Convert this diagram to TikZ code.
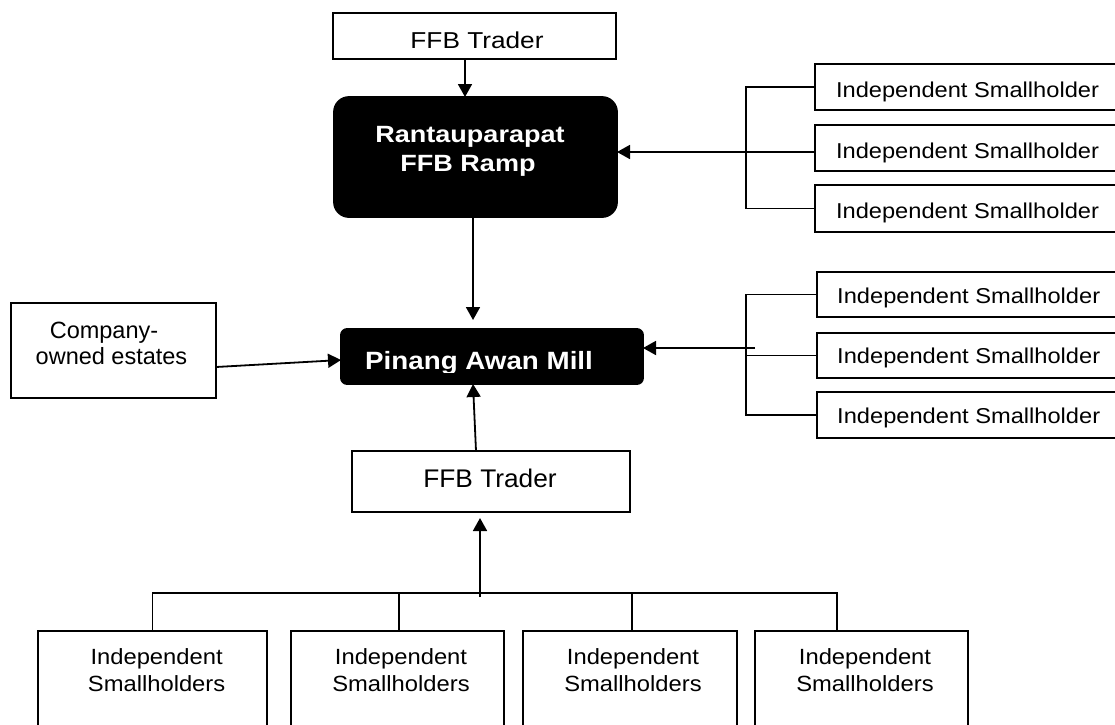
\documentclass[tikz,border=0pt]{standalone}
\usepackage{fontspec}
\setmainfont{Liberation Sans}
\newfontfamily\fsh{Liberation Sans}[FakeStretch=1.1]
\newfontfamily\fbt{Liberation Sans}[FakeStretch=1.08]
\newfontfamily\ftra{Liberation Sans}[FakeStretch=1.14]
\newfontfamily\ftrb{Liberation Sans}[FakeStretch=1.03]
\newfontfamily\fco{Liberation Sans}
\newfontfamily\framp{Liberation Sans}[FakeStretch=1.15]
\newfontfamily\fmill{Liberation Sans}[FakeStretch=1.11]
\usetikzlibrary{arrows.meta}
\begin{document}
\begin{tikzpicture}[x=1pt,y=-1pt,
  box/.style={draw=black,line width=1.8pt,fill=white,rectangle,inner sep=0pt,outer sep=0pt},
  dark/.style={draw=black,fill=black,line width=1.8pt,rounded corners=#1,inner sep=0pt,outer sep=0pt},
  lab/.style={inner sep=0pt,anchor=base},
  arr/.style={line width=1.8pt,-{Triangle[length=13pt,width=14pt]}},
  ln/.style={line width=1.8pt},
  shf/.style={font={\fsh\fontsize{21.5}{26}\selectfont}},
  btf/.style={font={\fbt\fontsize{22}{26}\selectfont}},
  traf/.style={font={\ftra\fontsize{23}{28}\selectfont}},
  trbf/.style={font={\ftrb\fontsize{25.5}{30}\selectfont}},
  cof/.style={font={\fco\fontsize{23.5}{28}\selectfont}},
  rampf/.style={text=white,font={\framp\bfseries\fontsize{23.5}{28}\selectfont}},
  millf/.style={text=white,font={\fmill\bfseries\fontsize{25}{30}\selectfont}}]
\fill[white] (0,0) rectangle (1115,724);
\useasboundingbox (0,0) rectangle (1115,724);
\clip (0,0) rectangle (1115,724);

% top trader and ramp
\node[box,minimum width=283pt,minimum height=46pt] (t1) at (474.5,36) {};
\node[lab,traf] (t1l) at (477,48.5) {FFB Trader};
\node[dark=15pt,minimum width=283pt,minimum height=120pt] (r) at (475.5,157) {};
\node[lab,rampf] (rl1) at (470,142) {Rantauparapat};
\node[lab,rampf] (rl2) at (468,171) {FFB Ramp};

% mill
\node[dark=6pt,minimum width=302pt,minimum height=55pt] (m) at (492,356.5) {};
\begin{scope}
  \clip (341,329) rectangle (643,372);
  \node[lab,millf,anchor=base west] (ml) at (365,369) {Pinang Awan Mill};
\end{scope}

% company estates
\node[box,minimum width=205pt,minimum height=95pt] (c) at (113.5,350.5) {};
\node[lab,cof] (cl1) at (104,338) {Company-};
\node[lab,cof] (cl2) at (111.5,364) {owned estates};

% lower trader
\node[box,minimum width=278pt,minimum height=61pt] (t2) at (491,481.5) {};
\node[lab,trbf] (t2l) at (490,487) {FFB Trader};

% right smallholders (upper)
\node[box,minimum width=315pt,minimum height=46pt] (s1) at (972.5,87) {};
\node[box,minimum width=315pt,minimum height=46pt] (s2) at (972.5,148) {};
\node[box,minimum width=315pt,minimum height=47pt] (s3) at (972.5,208.5) {};
\node[lab,shf] (s1l) at (967.5,97) {Independent Smallholder};
\node[lab,shf] (s2l) at (967.5,158) {Independent Smallholder};
\node[lab,shf] (s3l) at (967.5,218.5) {Independent Smallholder};

% right smallholders (lower)
\node[box,minimum width=313pt,minimum height=45pt] (s4) at (973.5,294.5) {};
\node[box,minimum width=313pt,minimum height=45pt] (s5) at (973.5,355.5) {};
\node[box,minimum width=313pt,minimum height=46pt] (s6) at (973.5,415) {};
\node[lab,shf] (s4l) at (968.7,303) {Independent Smallholder};
\node[lab,shf] (s5l) at (968.7,363.5) {Independent Smallholder};
\node[lab,shf] (s6l) at (968.7,423) {Independent Smallholder};

% bottom smallholders
\node[box,minimum width=229pt,minimum height=140pt] (b1) at (152.5,701) {};
\node[box,minimum width=213pt,minimum height=140pt] (b2) at (397.5,701) {};
\node[box,minimum width=214pt,minimum height=140pt] (b3) at (630,701) {};
\node[box,minimum width=213pt,minimum height=140pt] (b4) at (861.5,701) {};
\node[lab,btf] (b1l1) at (156.6,664) {Independent};
\node[lab,btf] (b1l2) at (156.6,691) {Smallholders};
\node[lab,btf] (b2l1) at (401,664) {Independent};
\node[lab,btf] (b2l2) at (401,691) {Smallholders};
\node[lab,btf] (b3l1) at (633,664) {Independent};
\node[lab,btf] (b3l2) at (633,691) {Smallholders};
\node[lab,btf] (b4l1) at (865,664) {Independent};
\node[lab,btf] (b4l2) at (865,691) {Smallholders};

% connectors
\draw[arr] ([xshift=-9.5pt]t1.south) -- ([xshift=-10.5pt]r.north);
\draw[arr] ([xshift=-2.5pt]r.south) -- ([xshift=-19pt,yshift=9pt]m.north);
\draw[ln] (s1.west) -- ++(-69,0) |- (s3.west);
\draw[arr] ([yshift=-4pt]s2.west) -- ([yshift=5pt]r.east);
\draw[ln] (s4.west) -- ++(-71,0) |- (s6.west);
\draw[ln] (s5.west) -- ++(-71,0);
\coordinate (j2) at (755,348);
\draw[arr] (j2) -- ([yshift=8.5pt]m.east);
\draw[arr] ([yshift=-16.5pt]c.east) -- ([yshift=-3.5pt]m.west);
\draw[arr] ([xshift=-15pt]t2.north) -- ([xshift=-19pt]m.south);
\draw[ln] (b1.north) -- ++(0,-38) -| ([xshift=-24.5pt]b4.north);
\draw[ln] ([xshift=1.5pt]b2.north) -- ++(0,-38);
\draw[ln] ([xshift=2pt]b3.north) -- ++(0,-38);
\coordinate (busj) at (480,597);
\draw[arr,shorten >=6pt] (busj) -- ([xshift=-11pt]t2.south);
\end{tikzpicture}
\end{document}
